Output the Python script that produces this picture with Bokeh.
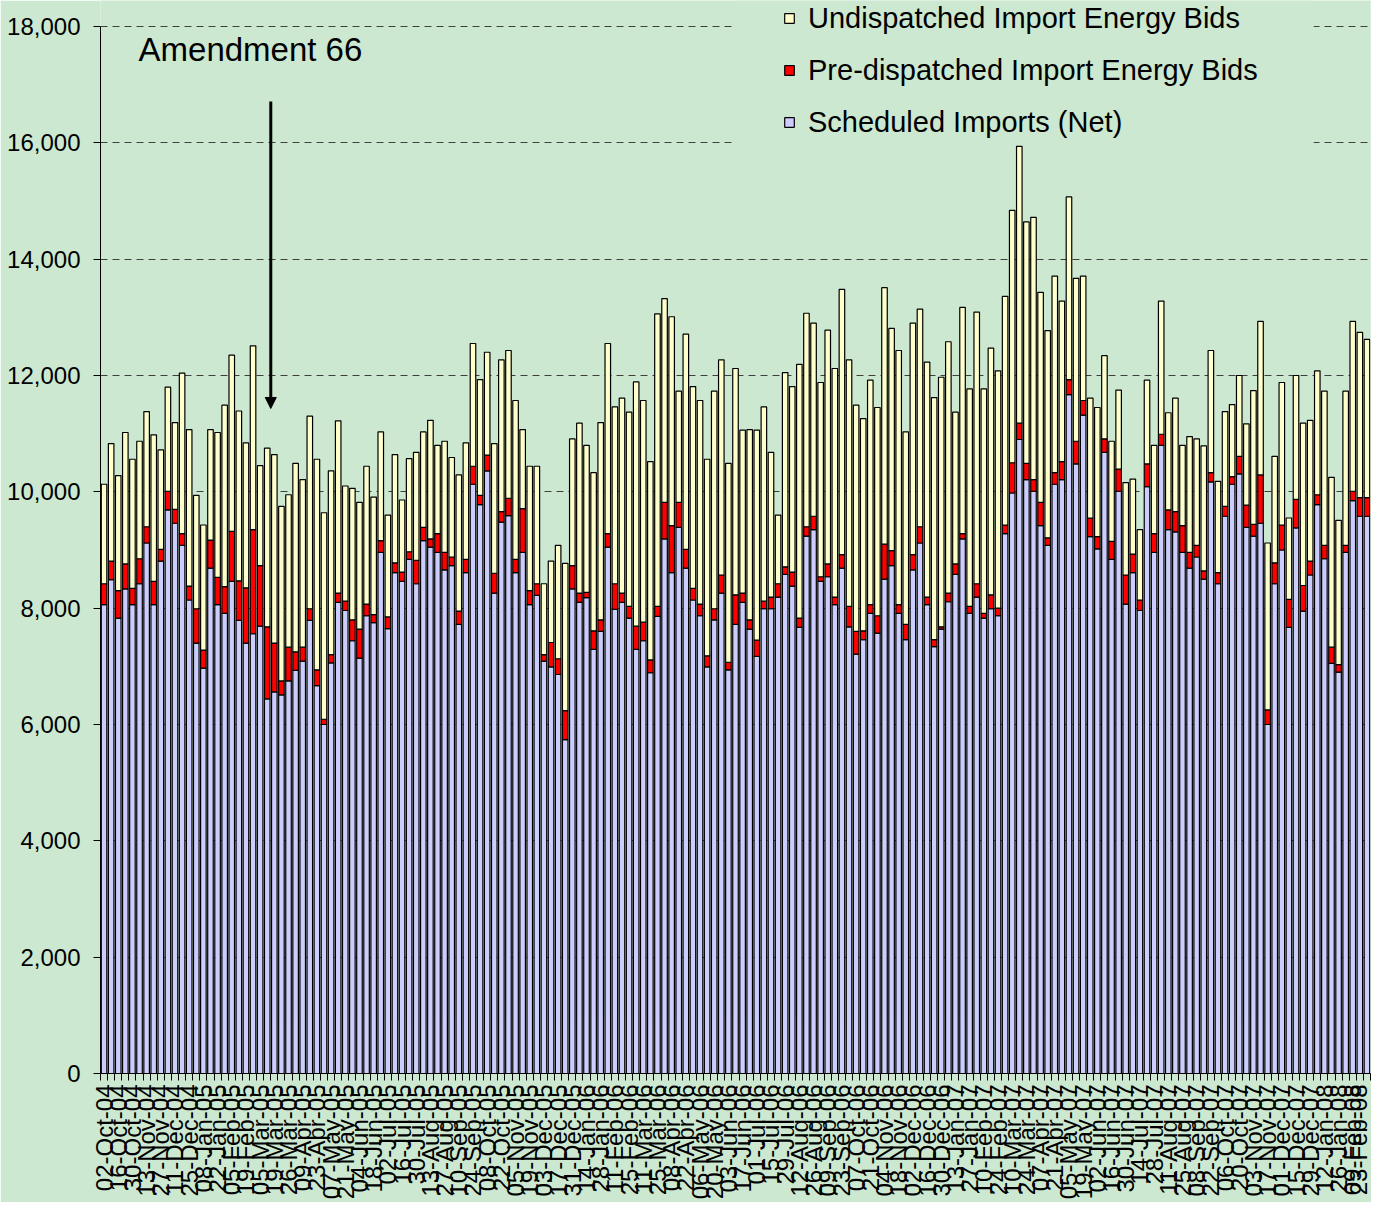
import math
import pandas as pd
from bokeh.plotting import figure
from bokeh.models import (ColumnDataSource, Range1d, FixedTicker, NumeralTickFormatter,
                          Legend, LegendItem, Label, Arrow, NormalHead, BoxAnnotation)
from bokeh.embed import file_html
from bokeh.resources import INLINE

# ---- categories (weekly, with one extra split week around Amendment 66) ----
week_dates = list(pd.date_range("2004-10-02", "2008-02-23", freq="7D"))
week_dates.insert(25, pd.Timestamp("2005-03-22"))
week_labels = [d.strftime("%d-%b-%y") for d in week_dates]

# ---- series values (MW) ----
scheduled_imports = [8060, 8490, 7830, 8330, 8060, 8420, 9120, 8060, 8810, 9690,
    9460, 9080, 8140, 7400, 6970, 8690, 8060, 7910, 8460, 7790,
    7400, 7560, 7690, 6440, 6560, 6510, 6750, 6930, 7090, 7790,
    6670, 6000, 7060, 8100, 7960, 7440, 7140, 7870, 7750, 8960,
    7650, 8610, 8460, 8840, 8420, 9160, 9050, 8960, 8660, 8730,
    7720, 8610, 10130, 9780, 10360, 8260, 9480, 9590, 8610, 8960,
    8060, 8220, 7090, 6990, 6860, 5740, 8330, 8100, 8180, 7290,
    7600, 9050, 7980, 8100, 7830, 7290, 7440, 6890, 7860, 9190,
    8610, 9390, 8690, 8140, 7870, 6990, 7800, 8260, 6940, 7720,
    8100, 7640, 7170, 7990, 7990, 8190, 8580, 8380, 7670, 9240,
    9350, 8460, 8540, 8060, 8690, 7680, 7210, 7460, 7910, 7570,
    8500, 8730, 7910, 7460, 8660, 9120, 8060, 7340, 7640, 8110,
    8580, 9190, 7910, 8190, 7830, 7990, 7870, 9280, 9980, 10900,
    10210, 10010, 9420, 9080, 10130, 10210, 11670, 10480, 11320, 9230,
    9020, 10680, 8840, 10010, 8070, 8610, 7960, 10090, 8960, 10800,
    9350, 9310, 8960, 8690, 8880, 8500, 10170, 8420, 9580, 10130,
    10310, 9390, 9240, 9460, 6000, 8420, 9000, 7670, 9380, 7950,
    8570, 9780, 8850, 7050, 6900, 8960, 9850, 9580, 9580]

predispatched_bids = [360, 320, 470, 430, 280, 430, 280, 400, 200, 320,
    240, 200, 240, 590, 310, 480, 470, 460, 860, 680,
    950, 1790, 1040, 1240, 840, 240, 580, 320, 240, 200,
    270, 90, 140, 160, 160, 360, 500, 200, 140, 200,
    200, 170, 160, 130, 400, 230, 140, 320, 300, 150,
    230, 230, 310, 160, 270, 340, 180, 300, 230, 750,
    240, 200, 110, 420, 270, 500, 400, 160, 90, 320,
    200, 230, 440, 160, 200, 400, 320, 220, 170, 630,
    810, 430, 320, 200, 200, 190, 190, 310, 130, 510,
    160, 160, 280, 130, 200, 230, 130, 240, 160, 160,
    230, 80, 220, 130, 230, 350, 390, 150, 150, 300,
    600, 260, 150, 260, 260, 280, 130, 120, 40, 150,
    180, 90, 120, 230, 80, 240, 130, 150, 520, 280,
    280, 200, 400, 130, 200, 310, 260, 390, 250, 320,
    210, 230, 310, 380, 500, 320, 180, 390, 320, 190,
    340, 350, 460, 270, 200, 140, 160, 190, 170, 130,
    300, 380, 200, 830, 250, 360, 430, 480, 490, 440,
    240, 170, 230, 280, 130, 120, 160, 320, 320]

undispatched_bids = [1710, 2020, 1980, 2260, 2220, 2020, 1980, 2520, 1710, 1790,
    1490, 2760, 2690, 1950, 2150, 1900, 2490, 3120, 3030, 2920,
    2490, 3160, 1720, 3070, 3240, 3000, 2620, 3240, 2880, 3310,
    3620, 3550, 3160, 2960, 1980, 2260, 2180, 2370, 2020, 1870,
    1750, 1860, 1240, 1600, 1860, 1640, 2040, 1520, 1910, 1710,
    2340, 2000, 2110, 1990, 1770, 2230, 2610, 2540, 2730, 1360,
    2140, 2020, 1220, 1400, 1950, 2530, 2180, 2920, 2530, 2720,
    3390, 3270, 3040, 3350, 3340, 4200, 3810, 3410, 5030, 3500,
    3590, 1910, 3700, 3470, 3500, 3380, 3740, 3700, 3420, 3890,
    2800, 3270, 3610, 3340, 2490, 1180, 3340, 3190, 4360, 3670,
    3320, 3340, 4020, 3930, 4560, 4240, 3890, 3650, 3860, 3580,
    4410, 3820, 4370, 3310, 3980, 3740, 4040, 4160, 4290, 4320,
    2610, 3890, 3740, 4670, 3860, 4240, 4080, 3930, 4340, 4760,
    4150, 4510, 3610, 3560, 3380, 2760, 3140, 2800, 2140, 2060,
    2220, 1430, 1720, 1360, 1590, 1290, 1210, 1440, 1520, 2290,
    1670, 1950, 1380, 1990, 1830, 2150, 2100, 1570, 1630, 1240,
    1390, 1400, 2300, 2640, 2870, 1830, 2450, 1400, 2130, 2790,
    2420, 2130, 2650, 2920, 2480, 2650, 2920, 2840, 2720]

y_ticks = list(range(0, 18001, 2000))

n = len(week_labels)
src = ColumnDataSource(dict(x=list(range(n)), week=week_labels,
                            sched=scheduled_imports, pre=predispatched_bids,
                            undisp=undispatched_bids))

BG = "#CCE8D0"
FONT = "Liberation Sans"

# frame runs from the very top so the legend is not clipped; axis line bounded to 0..18000
p = figure(width=1371, height=1202, output_backend="svg", toolbar_location=None,
           x_range=Range1d(-0.5, n - 0.5), y_range=Range1d(0, 18447),
           min_border_left=100, min_border_right=1, min_border_top=0, min_border_bottom=129)
p.background_fill_color = BG
p.border_fill_color = BG
p.outline_line_color = None

rs = p.vbar_stack(["sched", "pre", "undisp"], x="x", width=0.78, source=src,
                  fill_color=["#CCCCFF", "#FF0000", "#FFFFCC"],
                  line_color="black", line_width=1.2)

# axes
p.xaxis.ticker = FixedTicker(ticks=list(range(0, n, 2)),
                             minor_ticks=[i - 0.5 for i in range(n + 1)])
p.xaxis.major_label_overrides = {i: week_labels[i] for i in range(0, n, 2)}
p.xaxis.major_label_orientation = math.pi / 2
p.xaxis.major_tick_line_color = None
p.xaxis.major_tick_out = 0
p.xaxis.major_tick_in = 0
p.xaxis.minor_tick_line_color = "black"
p.xaxis.minor_tick_out = 7
p.xaxis.minor_tick_in = 0
p.xaxis.major_label_standoff = 4
p.xaxis.major_label_text_font = FONT
p.xaxis.major_label_text_font_size = "24px"
p.xaxis.major_label_text_color = "black"
p.xaxis.axis_line_color = "black"

p.yaxis.bounds = (0, 18000)
p.yaxis.ticker = FixedTicker(ticks=y_ticks)
p.yaxis.formatter = NumeralTickFormatter(format="0,0")
p.yaxis.major_tick_out = 7
p.yaxis.major_tick_in = 0
p.yaxis.minor_tick_line_color = None
p.yaxis.major_label_standoff = 13
p.yaxis.major_label_text_font = FONT
p.yaxis.major_label_text_font_size = "24px"
p.yaxis.major_label_text_color = "black"
p.yaxis.axis_line_color = "black"

p.xgrid.grid_line_color = None
p.ygrid.ticker = FixedTicker(ticks=y_ticks)
p.ygrid.grid_line_color = "#404040"
p.ygrid.grid_line_dash = "7 5"
p.ygrid.grid_line_width = 1

# area behind the legend hides the gridlines
cover = BoxAnnotation(left=89, right=170.5, bottom=15850, fill_color=BG, fill_alpha=1,
                      line_color=None, level="underlay")
p.add_layout(cover)

legend = Legend(items=[LegendItem(label="Undispatched Import Energy Bids", renderers=[rs[2]]),
                       LegendItem(label="Pre-dispatched Import Energy Bids", renderers=[rs[1]]),
                       LegendItem(label="Scheduled Imports (Net)", renderers=[rs[0]])],
                location=(683, 934))
legend.background_fill_color = BG
legend.background_fill_alpha = 1
legend.border_line_color = None
legend.padding = 4
legend.margin = 0
legend.spacing = 18
legend.label_height = 34
legend.glyph_width = 12
legend.glyph_height = 12
legend.label_standoff = 13
legend.label_text_font = FONT
legend.label_text_font_size = "29px"
legend.label_text_color = "black"
p.add_layout(legend, "center")

p.add_layout(Label(x=4.86, y=17610, text="Amendment 66", text_font=FONT,
                   text_font_size="33px", text_color="black", text_baseline="alphabetic"))
p.add_layout(Arrow(end=NormalHead(size=11, fill_color="black", line_color="black"),
                   x_start=23.5, y_start=16711, x_end=23.5, y_end=11433,
                   line_width=3, line_color="black"))

open("out.html", "w").write(file_html(p, INLINE))
